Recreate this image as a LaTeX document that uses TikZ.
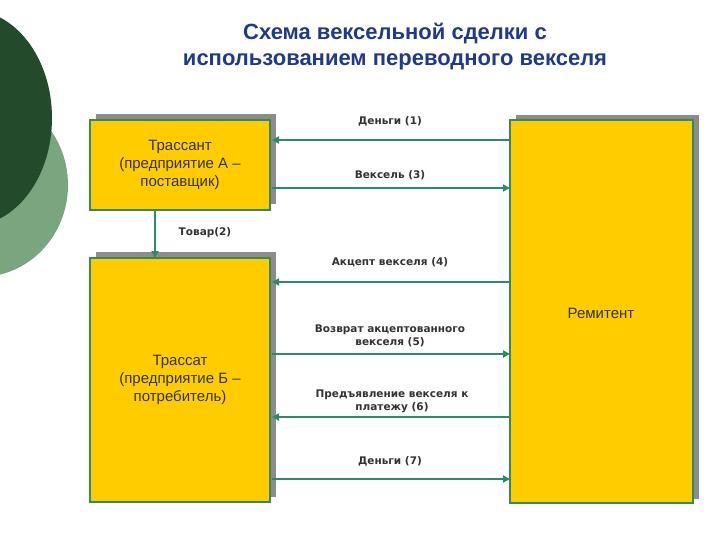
\documentclass[tikz,border=0pt]{standalone}
\usepackage{fontspec}
\setmainfont{Liberation Sans}
\newfontfamily\lblfont{DejaVu Sans}
\usetikzlibrary{arrows.meta}
\definecolor{ttl}{HTML}{1F3A8A}
\definecolor{dkg}{HTML}{244A2C}
\definecolor{ltg}{HTML}{7BA57F}
\definecolor{yel}{HTML}{FFCC00}
\definecolor{arr}{HTML}{2E8B6A}
\definecolor{shd}{HTML}{8C8C8C}
\tikzset{
  box/.style={draw=arr,line width=1.2pt,fill=yel},
  shadowbox/.style={fill=shd,draw=shd},
  conn/.style={draw=arr,line width=1.8pt,-{Triangle[length=7pt,width=7pt]}},
  lbl/.style={font=\lblfont\bfseries\fontsize{10.5}{13}\selectfont,text=black!80,align=center},
  btxt/.style={font=\fontsize{15}{18}\selectfont,text=black!80,align=center}
}
\begin{document}
\begin{tikzpicture}[x=1pt,y=-1pt]
\useasboundingbox (0,0) rectangle (720,540);
\fill[ltg] (-20,185) ellipse (88 and 92);
\fill[dkg] (-30,118) ellipse (82 and 108);
\node[font=\bfseries\fontsize{22}{26}\selectfont,text=ttl,align=center] (title) at (395,47) {Схема вексельной сделки с\\использованием переводного векселя};
% shadows
\fill[shd] (96,114) rectangle (276,204);
\fill[shd] (96,252) rectangle (276,497);
\fill[shd] (516,115) rectangle (699,499);
\path[box] (90,120) rectangle (270,210);
\path[box] (90,258) rectangle (270,502);
\path[box] (510,120) rectangle (693,503);
\node[btxt] (A) at (180,165) {Трассант\\(предприятие А –\\поставщик)};
\node[btxt] (B) at (180,380) {Трассат\\(предприятие Б –\\потребитель)};
\node[btxt] (R) at (601,313) {Ремитент};
\coordinate (Ar) at (272,0); \coordinate (Rl) at (510,0);
\coordinate (Ab) at (155,210); \coordinate (Bt) at (155,258);
\draw[conn] (510,140) -- (272,140);
\draw[conn] (272,188) -- (510,188);
\draw[conn] (Ab) -- (Bt);
\draw[conn] (510,282) -- (272,282);
\draw[conn] (272,354) -- (510,354);
\draw[conn] (510,417) -- (272,417);
\draw[conn] (272,479) -- (510,479);
\node[lbl] (l1) at (390,121) {Деньги (1)};
\node[lbl] (l3) at (390,175) {Вексель (3)};
\node[lbl] (l2) at (205,233) {Товар(2)};
\node[lbl] (l4) at (390,262) {Акцепт векселя (4)};
\node[lbl] (l5) at (390,336) {Возврат акцептованного\\векселя (5)};
\node[lbl] (l6) at (392,401) {Предъявление векселя к\\платежу (6)};
\node[lbl] (l7) at (390,461) {Деньги (7)};
\end{tikzpicture}
\end{document}
